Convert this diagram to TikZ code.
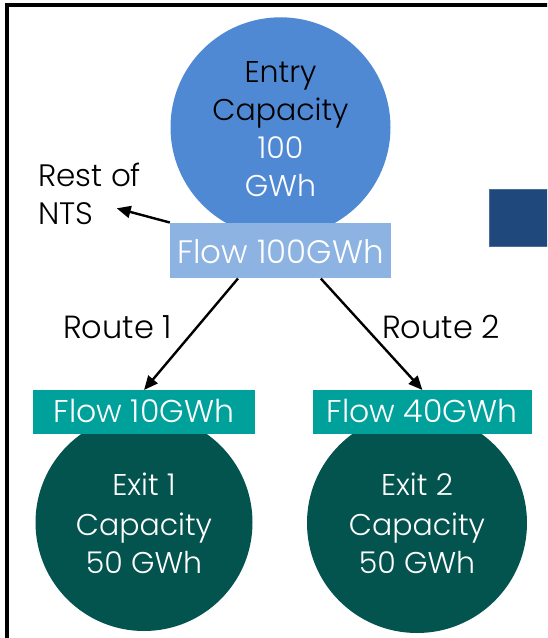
\documentclass[tikz,border=0pt]{standalone}
\usepackage{fontspec}
\setmainfont{Poppins}[UprightFont=* Light]
\usetikzlibrary{arrows.meta,calc}
\definecolor{entryblue}{HTML}{5089D3}
\definecolor{flowblue}{HTML}{8DB3E2}
\definecolor{teal}{HTML}{00A19B}
\definecolor{exitgreen}{HTML}{03534F}
\definecolor{navy}{HTML}{1F497D}
\begin{document}
\begin{tikzpicture}[x=1pt,y=-1pt,
  txt/.style={anchor=base,inner sep=0pt,font=\fontsize{30}{38}\selectfont},
  flowtxt/.style={anchor=base,inner sep=0pt,font=\fontsize{32.5}{38}\selectfont,text=white},
  bigcircle/.style={circle,inner sep=0pt,minimum size=#1},
  flowbox/.style={rectangle,inner sep=0pt},
  conn/.style={line width=2.4pt,-{Triangle[length=14pt,width=12pt]}}]
\useasboundingbox (0,0) rectangle (547,638);
\clip (0,0) rectangle (547,638);
\fill[white] (0,0) rectangle (547,638);
% frame
\draw[line width=3.5pt] (7,660) -- (7,5) -- (560,5);
% navy block
\node[flowbox,fill=navy,draw=navy!80!white,line width=0.6pt,minimum width=70pt,minimum height=56.5pt,anchor=north west] (navyblock) at (489,189) {};
% entry
\node[bigcircle=220pt,fill=entryblue] (entry) at (280.5,127.3) {};
\node[txt] (entry1) at (280.5,82) {Entry};
\node[txt] (entry2) at (280.5,120.3) {Capacity};
\node[txt,text=white] (entry3) at (280.5,158.6) {100};
\node[txt,text=white] (entry4) at (280.5,196.9) {GWh};
\node[flowbox,fill=flowblue,minimum width=221pt,minimum height=55.6pt] (f100) at (280.5,250.5) {};
\node[flowtxt] (f100t) at (280.5,263) {Flow 100GWh};
% exits
\node[bigcircle=217pt,fill=exitgreen] (exit1) at (144,522.5) {};
\node[bigcircle=220pt,fill=exitgreen] (exit2) at (417,523) {};
\node[flowbox,fill=teal,minimum width=222.3pt,minimum height=43.3pt,anchor=north west] (f10) at (32.7,390) {};
\node[flowbox,fill=teal,minimum width=219pt,minimum height=43.3pt,anchor=north west] (f40) at (312.7,390) {};
\node[flowtxt,font=\fontsize{31.5}{38}\selectfont] (f10t) at (143.8,422.7) {Flow 10GWh};
\node[flowtxt,font=\fontsize{31.5}{38}\selectfont] (f40t) at (422,422.7) {Flow 40GWh};
\node[txt,text=white] (ex1a) at (144,495) {Exit 1};
\node[txt,text=white] (ex1b) at (144,535) {Capacity};
\node[txt,text=white] (ex1c) at (144,573.3) {50 GWh};
\node[txt,text=white] (ex2a) at (417,495) {Exit 2};
\node[txt,text=white] (ex2b) at (417,535) {Capacity};
\node[txt,text=white] (ex2c) at (417,573.3) {50 GWh};
% labels
\node[txt,anchor=base west,font=\fontsize{31}{38}\selectfont] (rest1) at (38,186.7) {Rest of};
\node[txt,anchor=base west,font=\fontsize{31}{38}\selectfont] (rest2) at (38,224) {NTS};
\node[txt,anchor=base west,font=\fontsize{32}{38}\selectfont] (route1) at (63,338) {Route 1};
\node[txt,anchor=base west,font=\fontsize{32}{38}\selectfont] (route2) at (382,338) {Route 2};
% connectors
\coordinate (ntstip) at (116.7,208.3);
\draw[conn] (f100.north west) -- (ntstip);
\draw[conn] ($(f100.south west)!0.308!(f100.south east)$) -- (f10.north);
\draw[conn] ($(f100.south west)!0.682!(f100.south east)$) -- (f40.north);
\end{tikzpicture}
\end{document}
